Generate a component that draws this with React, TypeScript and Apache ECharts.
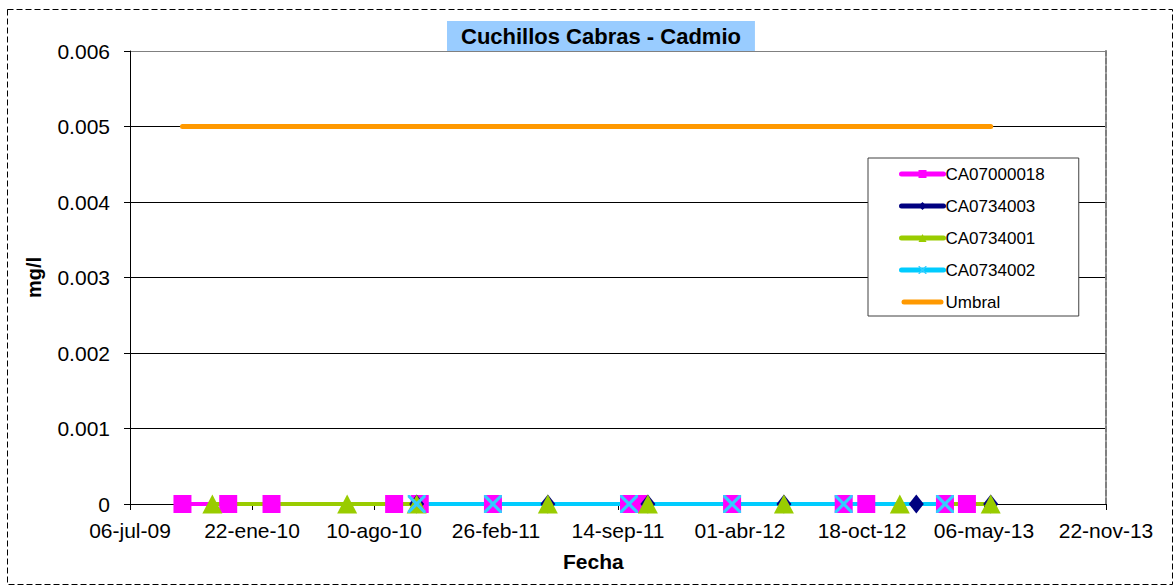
import React, { useEffect, useRef } from "react";
import * as echarts from "echarts";

const titleText = "Cuchillos Cabras - Cadmio";
const xAxisName = "Fecha";
const yAxisName = "mg/l";
const monthNames = ["ene", "feb", "mar", "abr", "may", "jun", "jul", "ago", "sep", "oct", "nov", "dic"];

const xMinSerial = 40000; // 06-jul-09
const xMaxSerial = 41600; // 22-nov-13
const xTickDays = 200;
const yMin = 0;
const yMax = 0.006;
const yStep = 0.001;

const pinkName = "CA07000018";
const pinkDates = ["2009-09-30", "2009-12-14", "2010-02-23", "2010-09-12", "2010-10-24", "2011-02-21", "2011-10-02", "2011-10-17", "2012-03-19", "2012-09-18", "2012-10-25", "2013-03-03", "2013-04-08"];
const pinkValues = [0, 0, 0, 0, 0, 0, 0, 0, 0, 0, 0, 0, 0];

const navyName = "CA0734003";
const navyDates = ["2010-10-19", "2011-05-22", "2011-11-02", "2012-06-12", "2013-01-15", "2013-05-17"];
const navyValues = [0, 0, 0, 0, 0, 0];

const greenName = "CA0734001";
const greenDates = ["2009-11-18", "2010-06-27", "2010-10-19", "2011-05-22", "2011-11-02", "2012-06-12", "2012-12-19", "2013-05-17"];
const greenValues = [0, 0, 0, 0, 0, 0, 0, 0];

const cyanName = "CA0734002";
const cyanDates = ["2010-10-19", "2011-02-21", "2011-10-02", "2012-03-19", "2012-09-18", "2013-03-03"];
const cyanValues = [0, 0, 0, 0, 0, 0];

const umbralName = "Umbral";
const umbralDates = ["2009-09-30", "2013-05-17"];
const umbralValues = [0.005, 0.005];

const EXCEL_EPOCH = Date.UTC(1899, 11, 30);
const DAY = 86400000;

function toSerial(s: string): number {
  const [y, m, d] = s.split("-").map(Number);
  return Math.round((Date.UTC(y, m - 1, d) - EXCEL_EPOCH) / DAY);
}
function fmtSerial(v: number): string {
  const dt = new Date(EXCEL_EPOCH + Math.round(v) * DAY);
  const dd = String(dt.getUTCDate()).padStart(2, "0");
  const yy = String(dt.getUTCFullYear() % 100).padStart(2, "0");
  return `${dd}-${monthNames[dt.getUTCMonth()]}-${yy}`;
}
function pairs(dates: string[], vals: number[]) {
  return dates.map((d, i) => [toSerial(d), vals[i]]);
}

const xMarker = "path://M0,0 L2.5,0 L10,7.5 L17.5,0 L20,0 L20,2.5 L12.5,10 L20,17.5 L20,20 L17.5,20 L10,12.5 L2.5,20 L0,20 L0,17.5 L7.5,10 L0,2.5 Z";
const barIcon = "path://M2.5,0 L39.5,0 A2.5,2.5 0 0 1 39.5,5 L2.5,5 A2.5,2.5 0 0 1 2.5,0 Z";

export default function App() {
  const ref = useRef<HTMLDivElement>(null);
  useEffect(() => {
    if (!ref.current) return;
    const chart = echarts.init(ref.current, null, { renderer: "svg" });
    const font = "Arial, 'Liberation Sans', sans-serif";
    const option: any = {
      animation: false,
      backgroundColor: "#ffffff",
      textStyle: { fontFamily: font },
      title: {
        text: titleText,
        left: 447,
        top: 21,
        padding: [4, 14, 4, 14],
        backgroundColor: "#99ccff",
        textStyle: { fontFamily: font, fontSize: 22, fontWeight: "bold", color: "#000" },
      },
      legend: {
        orient: "vertical",
        left: 868,
        top: 158,
        padding: [7, 34, 5, 31],
        itemWidth: 42,
        itemHeight: 10,
        itemGap: 14,
        borderColor: "#404040",
        borderWidth: 1,
        backgroundColor: "#fff",
        lineStyle: { width: 5, cap: "round" },
        textStyle: { fontFamily: font, fontSize: 17, color: "#000", lineHeight: 18, padding: [0, 0, 0, -3] },
        data: [
          { name: pinkName },
          { name: navyName },
          { name: greenName },
          { name: cyanName },
          { name: umbralName, icon: barIcon },
        ],
      },
      grid: { left: 130, right: 70, top: 51, bottom: 84, containLabel: false },
      xAxis: {
        type: "value",
        min: xMinSerial,
        max: xMaxSerial,
        interval: xTickDays,
        axisLine: { lineStyle: { color: "#000", width: 1 } },
        axisTick: { show: true, inside: false, length: 6, lineStyle: { color: "#000" } },
        splitLine: { show: false },
        axisLabel: { fontFamily: font, fontSize: 21, color: "#000", margin: 16, formatter: (v: number) => fmtSerial(v) },
      },
      yAxis: [
        {
          type: "value",
          min: yMin,
          max: yMax,
          interval: yStep,
          name: yAxisName,
          nameLocation: "middle",
          nameRotate: 90,
          nameGap: 86,
          nameTextStyle: { fontFamily: font, fontSize: 20, fontWeight: "bold", color: "#000" },
          axisLine: { show: true, lineStyle: { color: "#000", width: 1 } },
          axisTick: { show: true, length: 6, lineStyle: { color: "#000" } },
          splitLine: { show: true, lineStyle: { color: ["#000", "#000", "#000", "#000", "#000", "#000", "#808080"], width: 1 } },
          axisLabel: {
            fontFamily: font,
            fontSize: 21,
            color: "#000",
            margin: 20,
            formatter: (v: number) => (v === 0 ? "0" : v.toFixed(3)),
          },
        },
        {
          type: "value",
          position: "right",
          min: yMin,
          max: yMax,
          axisLine: { show: true, lineStyle: { color: "#808080", width: 2, type: [6, 2] } },
          axisTick: { show: false },
          axisLabel: { show: false },
          splitLine: { show: false },
        },
      ],
      series: [
        {
          name: pinkName,
          type: "line",
          data: pairs(pinkDates, pinkValues),
          symbol: "rect",
          symbolSize: 18,
          showAllSymbol: true,
          itemStyle: { color: "#ff00ff" },
          lineStyle: { color: "#ff00ff", width: 4 },
        },
        {
          name: navyName,
          type: "line",
          data: pairs(navyDates, navyValues),
          symbol: "diamond",
          symbolSize: [15, 19],
          showAllSymbol: true,
          itemStyle: { color: "#000080" },
          lineStyle: { color: "#000080", width: 3 },
        },
        {
          name: greenName,
          type: "line",
          data: pairs(greenDates, greenValues),
          symbol: "triangle",
          symbolSize: [20, 19],
          showAllSymbol: true,
          itemStyle: { color: "#99cc00" },
          lineStyle: { color: "#99cc00", width: 4 },
        },
        {
          name: cyanName,
          type: "line",
          data: pairs(cyanDates, cyanValues),
          symbol: xMarker,
          symbolSize: 18,
          showAllSymbol: true,
          itemStyle: { color: "#33ccff" },
          lineStyle: { color: "#00ccff", width: 4 },
        },
        {
          name: umbralName,
          type: "line",
          data: pairs(umbralDates, umbralValues),
          symbol: "none",
          itemStyle: { color: "#ff9900" },
          lineStyle: { color: "#ff9900", width: 5, cap: "round" },
        },
      ],
      graphic: [
        {
          type: "rect",
          shape: { x: 7.5, y: 9.5, width: 1165, height: 575 },
          style: { fill: null, stroke: "#000", lineWidth: 1, lineDash: [6, 3] },
          silent: true,
          z: 100,
        },
        {
          type: "text",
          left: 563,
          top: 551,
          style: { text: xAxisName, fontFamily: font, fontSize: 21, fontWeight: "bold", fill: "#000" },
        },
      ],
    };
    chart.setOption(option);
    return () => chart.dispose();
  }, []);
  return (
    <div
      ref={ref}
      style={{ position: "absolute", left: 0, top: 0, width: 1176, height: 588 }}
    />
  );
}
